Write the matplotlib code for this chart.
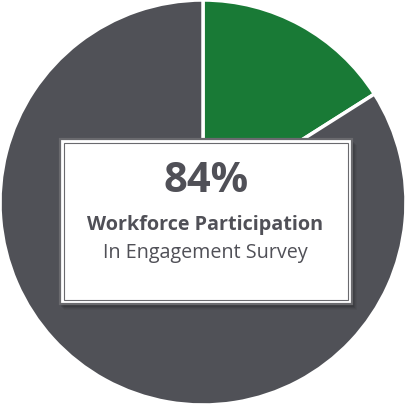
import matplotlib.pyplot as plt
from matplotlib.patches import Rectangle

# Pie data
labels = ["Participated", "Other"]
values = [16, 84]
colors = ["#197a36", "#505157"]

headline = "84%"
title_text = "Workforce Participation"
sub_text = "In Engagement Survey"

fig = plt.figure(figsize=(4.06, 4.05), dpi=100)
ax = fig.add_axes([0, 0, 1, 1])
ax.pie(values, colors=colors, startangle=90, counterclock=False, radius=1.0,
       wedgeprops=dict(edgecolor="white", linewidth=2.5))
ax.set_xlim(-1.0, 1.0)
ax.set_ylim(-1.0, 1.0)
ax.set_aspect("auto")
ax.axis("off")

# Box in pixel-ish figure coordinates
W, H = 406, 405
def fx(px):
    return px / W
def fy(py):
    return 1 - py / H

x0, x1, y0, y1 = 60, 352, 139, 304
# shadow
for i, a in enumerate([0.10, 0.08, 0.06, 0.04]):
    fig.patches.append(Rectangle((fx(x0 + 1 + i), fy(y1 + 3 + i)), fx(x1 - x0 + 1), (y1 - y0) / H,
                                 transform=fig.transFigure, facecolor="black", alpha=a,
                                 edgecolor="none", zorder=3))
fig.patches.append(Rectangle((fx(x0), fy(y1)), fx(x1 - x0), (y1 - y0) / H, transform=fig.transFigure,
                             facecolor="white", edgecolor="#6a6a6e", linewidth=1.6, zorder=4))
fig.patches.append(Rectangle((fx(x0 + 4), fy(y1 - 4)), fx(x1 - x0 - 8), (y1 - y0 - 8) / H,
                             transform=fig.transFigure, facecolor="white", edgecolor="#6a6a6e",
                             linewidth=0.8, zorder=5))

txt_color = "#505057"
fig.text(fx(206), fy(182), headline, ha="center", va="center", fontsize=30, fontweight="bold",
         family="Open Sans", color=txt_color, zorder=6)
fig.text(fx(205), fy(225), title_text, ha="center", va="center", fontsize=14.2, fontweight="bold",
         family="Open Sans", color=txt_color, zorder=6)
fig.text(fx(205), fy(253), sub_text, ha="center", va="center", fontsize=14.2,
         family="Open Sans", color=txt_color, zorder=6)

fig.savefig("out.png", dpi=100, facecolor="white")
